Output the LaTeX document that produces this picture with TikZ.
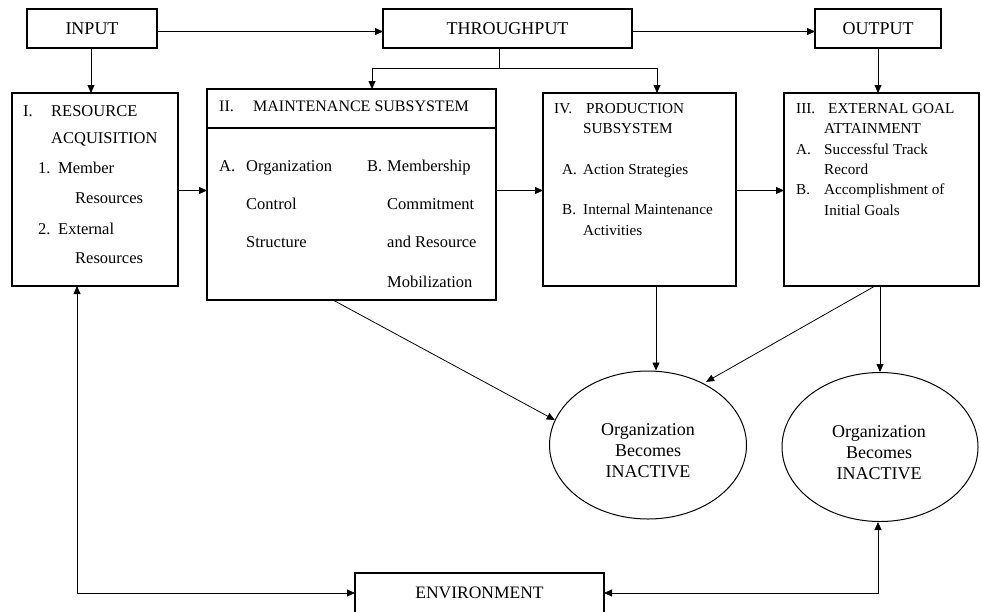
\documentclass[tikz,border=0pt]{standalone}
\usepackage{fontspec}
\setmainfont{Liberation Serif}
\usetikzlibrary{arrows.meta,shapes.geometric,calc}
\begin{document}
\begin{tikzpicture}[x=1pt,y=-1pt,
  box/.style={draw,line width=1.2pt,inner sep=0pt,outer sep=0pt},
  conn/.style={line width=0.8pt},
  arr/.style={conn,-{Triangle[length=8pt,width=7pt]}},
  arrboth/.style={conn,{Triangle[length=8pt,width=7pt]}-{Triangle[length=8pt,width=7pt]}},
  big/.style={font=\fontsize{18}{21}\selectfont},
  ta/.style={anchor=base west,inner sep=0pt,font=\fontsize{16.5}{19}\selectfont},
  tb/.style={anchor=base west,inner sep=0pt,font=\fontsize{15.2}{18}\selectfont}]
\path[use as bounding box] (0,0) rectangle (981,611);
\clip (0,0) rectangle (981,611);
% top boxes
\node[box,big,minimum width=130,minimum height=39] (input) at (92,28.5) {INPUT};
\node[box,big,minimum width=249,minimum height=39] (thru) at (507.5,28.5) {THROUGHPUT};
\node[box,big,minimum width=126,minimum height=39] (output) at (878,28.5) {OUTPUT};
% main boxes
\node[box,minimum width=166,minimum height=193,anchor=north west] (res) at (12,93) {};
\node[box,minimum width=289,minimum height=211,anchor=north west] (maint) at (207,89) {};
\coordinate (mdl) at (207,128);
\draw[line width=1.2pt] (mdl) -- (mdl -| maint.east);
\node[box,minimum width=193,minimum height=193,anchor=north west] (prod) at (543,93) {};
\node[box,minimum width=195,minimum height=193,anchor=north west] (ext) at (784,93) {};
% ellipses
\node[draw,ellipse,line width=1pt,minimum width=197,minimum height=148,inner sep=0pt] (e1) at (648,445) {};
\node[draw,ellipse,line width=1pt,minimum width=196,minimum height=149,inner sep=0pt] (e2) at (880,447) {};
\node[big,align=center,inner sep=0pt] (e1t) at (648,451) {Organization\\Becomes\\INACTIVE};
\node[big,align=center,inner sep=0pt] (e2t) at (879,453) {Organization\\Becomes\\INACTIVE};
% environment
\node[box,font=\fontsize{17.5}{20}\selectfont,minimum width=249,minimum height=40] (env) at (479.5,593) {ENVIRONMENT};
% resource text
\node[ta] (r1) at (23,116) {I.};
\node[ta] (r2) at (51,116) {RESOURCE};
\node[ta] (r3) at (51,143.5) {ACQUISITION};
\node[ta] (r4) at (38,173.5) {1.};
\node[ta] (r5) at (58,173.5) {Member};
\node[ta] (r6) at (75,203.5) {Resources};
\node[ta] (r7) at (38,234.5) {2.};
\node[ta] (r8) at (58,234.5) {External};
\node[ta] (r9) at (75,263.5) {Resources};
% maintenance text
\node[ta,font=\fontsize{16}{19}\selectfont] (m1) at (219,111.5) {II.};
\node[ta,font=\fontsize{16}{19}\selectfont] (m2) at (253,111.5) {MAINTENANCE SUBSYSTEM};
\node[ta] (m3) at (219,171.5) {A.};
\node[ta] (m4) at (246,171.5) {Organization};
\node[ta] (m5) at (246,209.5) {Control};
\node[ta] (m6) at (246,247.5) {Structure};
\node[ta] (m7) at (367,171.5) {B.};
\node[ta] (m8) at (387,171.5) {Membership};
\node[ta] (m9) at (387,209.5) {Commitment};
\node[ta] (m10) at (387,247.5) {and Resource};
\node[ta] (m11) at (387,287.5) {Mobilization};
% production text
\node[tb] (p1) at (554,113) {IV.};
\node[tb] (p2) at (586,113) {PRODUCTION};
\node[tb] (p3) at (583,133) {SUBSYSTEM};
\node[tb] (p4) at (562,174) {A.};
\node[tb] (p5) at (583,174) {Action Strategies};
\node[tb] (p6) at (562,214) {B.};
\node[tb] (p7) at (583,214) {Internal Maintenance};
\node[tb] (p8) at (583,235) {Activities};
% external text
\node[tb] (x1) at (796,113) {III.};
\node[tb] (x2) at (828,113) {EXTERNAL GOAL};
\node[tb] (x3) at (824,133) {ATTAINMENT};
\node[tb] (x4) at (796,154) {A.};
\node[tb] (x5) at (824,154) {Successful Track};
\node[tb] (x6) at (824,174) {Record};
\node[tb] (x7) at (796,194) {B.};
\node[tb] (x8) at (824,194) {Accomplishment of};
\node[tb] (x9) at (824,215) {Initial Goals};
% connectors top
\draw[arr] ([yshift=-3pt]input.east) -- ([yshift=-3pt]thru.west);
\draw[arr] ([yshift=-3pt]thru.east) -- ([yshift=-3pt]output.west);
\coordinate (ia) at (91,48);
\draw[arr] (ia |- input.south) -- (ia |- res.north);
\draw[arr] (output.south) -- (output.south |- ext.north);
\coordinate (tbr) at (499,68);
\coordinate (tlft) at (372,68);
\coordinate (trgt) at (657,68);
\draw[conn] (tbr |- thru.south) -- (tbr);
\draw[arr] (tbr) -- (tlft) -- (tlft |- maint.north);
\draw[arr] (tbr) -- (trgt) -- (trgt |- prod.north);
% horizontal flow
\coordinate (hy) at (0,190.5);
\draw[arr] (hy -| res.east) -- (hy -| maint.west);
\draw[arr] (hy -| maint.east) -- (hy -| prod.west);
\draw[arr] (hy -| prod.east) -- (hy -| ext.west);
% to ellipses
\coordinate (ms) at (333,300);
\draw[arr] (ms) -- (e1.165);
\coordinate (ps) at (656,286);
\draw[arr] (ps) -- (ps |- e1.north);
\coordinate (xs) at (875,286);
\draw[arr,shorten >=3pt] (xs) -- (e1.48);
\draw[arr] (e2.north |- ext.south) -- (e2.north);
% environment loops
\coordinate (lc) at (77,593);
\coordinate (rc) at (878,593);
\draw[arrboth] (lc |- res.south) -- (lc) -- (env.west);
\draw[arrboth] (rc |- e2.south) -- (rc) -- (env.east);
\end{tikzpicture}
\end{document}
